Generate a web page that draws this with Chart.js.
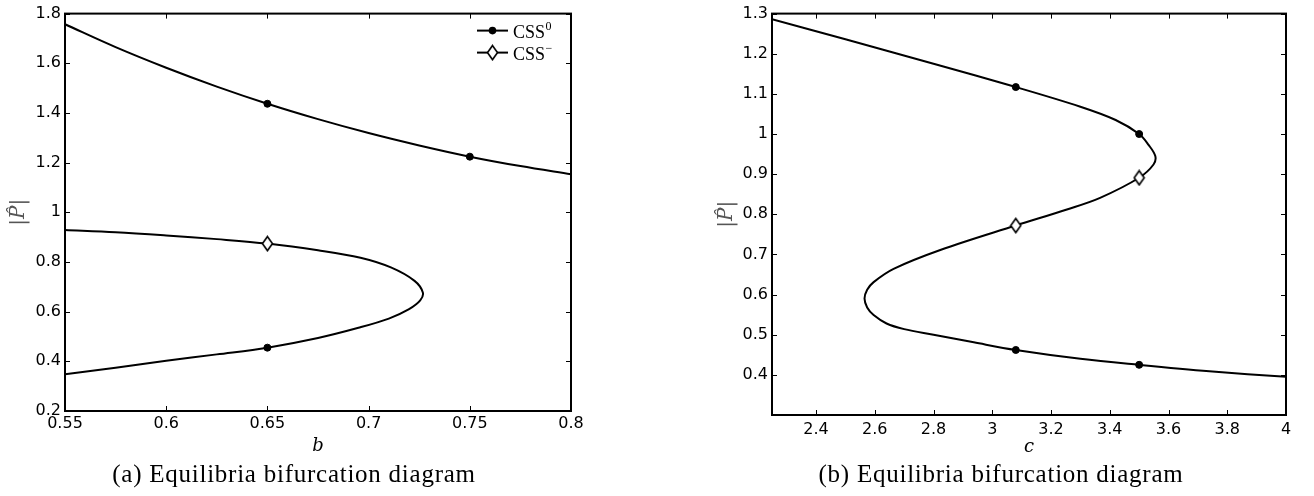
<!DOCTYPE html>
<html><head><meta charset="utf-8">
<script src="https://cdn.jsdelivr.net/npm/chart.js@4.4.1/dist/chart.umd.min.js"></script>
<style>
html,body{margin:0;padding:0;background:#fff;width:1314px;height:496px;overflow:hidden;position:relative;}
.box{position:absolute;}
.cap{position:absolute;font-family:"Liberation Serif",serif;font-size:25px;line-height:25px;letter-spacing:0.75px;color:#000;white-space:nowrap;transform:translateX(-50%);}
</style></head><body>
<div class="box" style="left:0;top:0;width:610px;height:465px"><canvas id="chartA"></canvas></div>
<div class="box" style="left:700px;top:0;width:614px;height:465px"><canvas id="chartB"></canvas></div>
<div class="cap" style="left:294px;top:461px">(a) Equilibria bifurcation diagram</div>
<div class="cap" style="left:1001px;top:461px">(b) Equilibria bifurcation diagram</div>
<script>
// ---------- data: panel (a) ----------
const leftXTicks = [0.55, 0.6, 0.65, 0.7, 0.75, 0.8];
const leftXLabels = ['0.55', '0.6', '0.65', '0.7', '0.75', '0.8'];
const leftYTicks = [0.2, 0.4, 0.6, 0.8, 1, 1.2, 1.4, 1.6, 1.8];
const leftYLabels = ['0.2', '0.4', '0.6', '0.8', '1', '1.2', '1.4', '1.6', '1.8'];
const upperB = [0.55, 0.575, 0.6, 0.625, 0.65, 0.675, 0.7, 0.725, 0.75, 0.775, 0.8];
const upperP = [1.757, 1.665, 1.582, 1.506, 1.437, 1.375, 1.319, 1.269, 1.224, 1.186, 1.153];
const foldB = [0.55, 0.575, 0.6, 0.625, 0.65, 0.675, 0.696, 0.711, 0.7227, 0.7268, 0.7255, 0.72, 0.71, 0.695, 0.675, 0.65, 0.625, 0.6, 0.575, 0.55];
const foldP = [0.929, 0.920, 0.907, 0.892, 0.874, 0.847, 0.817, 0.778, 0.724, 0.677, 0.645, 0.610, 0.572, 0.535, 0.494, 0.455, 0.428, 0.402, 0.374, 0.348];
const leftCss0B = [0.65, 0.75, 0.65];
const leftCss0P = [1.437, 1.224, 0.455];
const leftCssMB = [0.65];
const leftCssMP = [0.874];
// ---------- data: panel (b) ----------
const rightXTicks = [2.4, 2.6, 2.8, 3, 3.2, 3.4, 3.6, 3.8, 4];
const rightXLabels = ['2.4', '2.6', '2.8', '3', '3.2', '3.4', '3.6', '3.8', '4'];
const rightYTicks = [0.3, 0.4, 0.5, 0.6, 0.7, 0.8, 0.9, 1, 1.1, 1.2, 1.3];
const rightYLabels = ['', '0.4', '0.5', '0.6', '0.7', '0.8', '0.9', '1', '1.1', '1.2', '1.3'];
const curveC = [2.25, 2.5, 2.8, 3.08, 3.3, 3.42, 3.5, 3.532, 3.555, 3.549, 3.5, 3.367, 3.254, 3.08, 2.823, 2.664, 2.596, 2.574, 2.565, 2.574, 2.596, 2.64, 2.7, 2.8, 2.937, 3.08, 3.3, 3.5, 3.739, 4.0];
const curveP = [1.286, 1.236, 1.175, 1.117, 1.068, 1.035, 1.0, 0.973, 0.945, 0.924, 0.891, 0.841, 0.812, 0.772, 0.711, 0.664, 0.631, 0.612, 0.590, 0.568, 0.549, 0.528, 0.514, 0.500, 0.481, 0.462, 0.440, 0.425, 0.409, 0.395];
const rightCss0C = [3.08, 3.5, 3.08, 3.5];
const rightCss0P = [1.117, 1.0, 0.462, 0.425];
const rightCssMC = [3.08, 3.5];
const rightCssMP = [0.772, 0.891];
// ---------- legend ----------
const legendNames = ['CSS', 'CSS'];
const legendSups = ['0', '\u2212'];

const zip = (xs, ys) => xs.map((v, i) => ({x: v, y: ys[i]}));

function makeDiamond() {
  const c = document.createElement('canvas');
  c.width = 13; c.height = 17;
  const g = c.getContext('2d');
  g.beginPath();
  g.moveTo(6.5, 1.5); g.lineTo(11.5, 8.5); g.lineTo(6.5, 15.5); g.lineTo(1.5, 8.5); g.closePath();
  g.fillStyle = '#fff'; g.fill();
  g.lineWidth = 1.6; g.strokeStyle = '#000'; g.stroke();
  return c;
}
const diamond = makeDiamond();

const frameTicks = {
  id: 'frameTicks',
  afterDatasetsDraw(chart) {
    const {ctx, chartArea: {left, right, top, bottom}, scales: {x, y}} = chart;
    ctx.save();
    ctx.strokeStyle = '#000';
    ctx.lineWidth = 1;
    const L = 5;
    ctx.beginPath();
    x.ticks.forEach(t => {
      const px = Math.round(x.getPixelForValue(t.value)) + 0.5;
      ctx.moveTo(px, bottom); ctx.lineTo(px, bottom - L);
      ctx.moveTo(px, top); ctx.lineTo(px, top + L);
    });
    y.ticks.forEach(t => {
      const py = Math.round(y.getPixelForValue(t.value)) + 0.5;
      ctx.moveTo(left, py); ctx.lineTo(left + L, py);
      ctx.moveTo(right, py); ctx.lineTo(right - L, py);
    });
    ctx.stroke();
    ctx.lineWidth = 2;
    ctx.strokeRect(left, top, right - left, bottom - top);
    ctx.restore();
  }
};

const miniLegend = {
  id: 'miniLegend',
  afterDraw(chart, args, opts) {
    if (!opts.show) return;
    const {ctx, chartArea: {right, top}} = chart;
    ctx.save();
    const styles = ['dot', 'diamond'];
    styles.forEach((s, i) => {
      const ly = top + 17 + i * 22;
      const x0 = right - 94, x1 = right - 63, xm = (x0 + x1) / 2;
      ctx.strokeStyle = '#000'; ctx.lineWidth = 2;
      ctx.beginPath(); ctx.moveTo(x0, ly); ctx.lineTo(x1, ly); ctx.stroke();
      if (s === 'dot') {
        ctx.fillStyle = '#000';
        ctx.beginPath(); ctx.arc(xm, ly, 3.8, 0, Math.PI * 2); ctx.fill();
      } else {
        ctx.drawImage(diamond, xm - diamond.width / 2, ly - diamond.height / 2);
      }
      ctx.fillStyle = '#000';
      ctx.textBaseline = 'alphabetic';
      ctx.textAlign = 'left';
      ctx.font = '18px "Liberation Serif", serif';
      const tx = right - 58;
      ctx.fillText(legendNames[i], tx, ly + 7);
      const w = ctx.measureText(legendNames[i]).width;
      ctx.font = '12px "Liberation Serif", serif';
      ctx.fillText(legendSups[i], tx + w + 0.5, ly - 1);
    });
    ctx.restore();
  }
};

function makeChart(id, cfg) {
  const tickFont = {family: '"DejaVu Sans", sans-serif', size: 16};
  const titleFont = {family: '"DejaVu Serif", serif', size: 18, style: 'italic'};
  const yTitleFont = {family: '"DejaVu Serif", serif', size: 20, style: 'italic'};
  return new Chart(document.getElementById(id), {
    type: 'scatter',
    data: {datasets: cfg.datasets},
    options: {
      responsive: true, maintainAspectRatio: false, animation: false,
      devicePixelRatio: 1,
      layout: {padding: {left: 0, top: 11, right: cfg.padRight, bottom: 0}},
      plugins: {legend: {display: false}, tooltip: {enabled: false}, miniLegend: {show: cfg.legend}},
      scales: {
        x: {
          type: 'linear', min: cfg.xMin, max: cfg.xMax,
          grid: {display: false, drawTicks: false}, border: {display: false},
          afterBuildTicks: s => { s.ticks = cfg.xTicks.map(v => ({value: v})); },
          afterFit: s => { s.height = cfg.xHeight; },
          ticks: {font: tickFont, color: '#000', padding: cfg.xPad, maxRotation: 0, autoSkip: false,
                  callback: (v, i) => cfg.xLabels[i]},
          title: {display: true, text: cfg.xTitle, font: titleFont, color: '#000', padding: {top: 0, bottom: cfg.xTitlePad}}
        },
        y: {
          type: 'linear', min: cfg.yMin, max: cfg.yMax,
          grid: {display: false, drawTicks: false}, border: {display: false},
          afterBuildTicks: s => { s.ticks = cfg.yTicks.map(v => ({value: v})); },
          afterFit: s => { s.width = cfg.yWidth; },
          ticks: {font: tickFont, color: '#000', padding: 4, autoSkip: false,
                  callback: (v, i) => cfg.yLabels[i]},
          title: {display: true, text: '|P\u0302|', font: yTitleFont, color: '#555', padding: {top: cfg.yTitlePad, bottom: 0}}
        }
      }
    },
    plugins: [frameTicks, miniLegend]
  });
}

const lineDs = (pts) => ({data: pts, showLine: true, borderColor: '#000', borderWidth: 2, pointRadius: 0, tension: 0.35, fill: false});
const dotDs = (pts) => ({data: pts, showLine: false, pointStyle: 'circle', pointRadius: 3.5, pointBackgroundColor: '#000', pointBorderColor: '#000', pointBorderWidth: 1});
const diaDs = (pts) => ({data: pts, showLine: false, pointStyle: diamond, pointRadius: 5});

makeChart('chartA', {
  datasets: [dotDs(zip(leftCss0B, leftCss0P)), diaDs(zip(leftCssMB, leftCssMP)),
             lineDs(zip(upperB, upperP)), lineDs(zip(foldB, foldP))],
  xMin: 0.55, xMax: 0.8, yMin: 0.2, yMax: 1.8,
  xTicks: leftXTicks, xLabels: leftXLabels, yTicks: leftYTicks, yLabels: leftYLabels,
  padRight: 39, xHeight: 54, yWidth: 65, xPad: 3, xTitle: 'b', xTitlePad: 8, yTitlePad: 7, legend: true
});
makeChart('chartB', {
  datasets: [dotDs(zip(rightCss0C, rightCss0P)), diaDs(zip(rightCssMC, rightCssMP)),
             lineDs(zip(curveC, curveP))],
  xMin: 2.25, xMax: 4, yMin: 0.3, yMax: 1.3,
  xTicks: rightXTicks, xLabels: rightXLabels, yTicks: rightYTicks, yLabels: rightYLabels,
  padRight: 28, xHeight: 50, yWidth: 72, xPad: 5, xTitle: 'c', xTitlePad: 7, yTitlePad: 15, legend: false
});
</script>
</body></html>
